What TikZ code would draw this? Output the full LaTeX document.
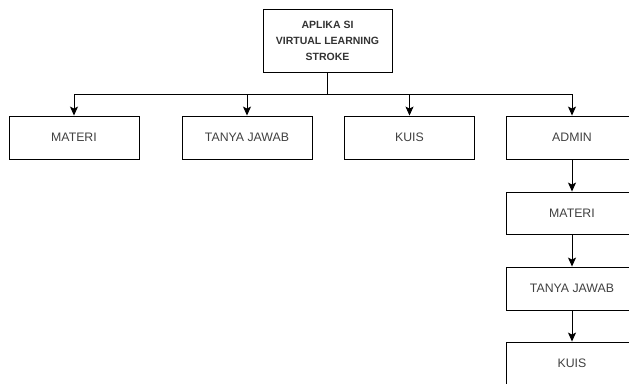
\documentclass[tikz,border=0pt]{standalone}
\usepackage{fontspec}
\setmainfont{Liberation Sans}
\usepackage{tikz}
\usetikzlibrary{arrows.meta}

\begin{document}
\begin{tikzpicture}[x=1pt,y=-1pt,line width=0.9pt,
        >={Stealth[length=9pt,width=8pt,inset=2pt]}]
      \tikzstyle{box} = [draw,rectangle,minimum width=130pt,minimum height=43pt,
        font=\fontsize{12.3}{14}\selectfont,text=black!75]
      \tikzstyle{title} = [draw,rectangle,minimum width=129pt,minimum height=63pt,
        align=center,font=\bfseries\fontsize{10.5}{16}\selectfont,text=black!80]
      \useasboundingbox (0,0) rectangle (629,383);
      \node (app) [title] at (327.5,40.5) {APLIKA SI\\VIRTUAL LEARNING\\STROKE};
      \node (materi) [box] at (74,137.5) {MATERI};
      \node (tanyajawab) [box] at (247,137.5) {TANYA JAWAB};
      \node (kuis) [box] at (409.5,137.5) {KUIS};
      \node (admin) [box,minimum width=132pt] at (572,137.5) {ADMIN};
      \node (amateri) [box,minimum width=132pt,minimum height=42pt] at (572,213) {MATERI};
      \node (atanyajawab) [box,minimum width=132pt] at (572,288.5) {TANYA JAWAB};
      \node (akuis) [box,minimum width=132pt,minimum height=42pt] at (572,363) {KUIS};
      % bus from the top box
      \draw (app.south) -- ++(0,22) coordinate (bus);
      \draw (bus -| materi) -- (bus -| admin);
      \foreach \n in {materi,tanyajawab,kuis,admin}
        \draw[->] (bus -| \n) -- (\n.north);
      % admin column
      \draw[->] (admin) -- (amateri);
      \draw[->] (amateri) -- (atanyajawab);
      \draw[->] (atanyajawab) -- (akuis);
\end{tikzpicture}
\end{document}
